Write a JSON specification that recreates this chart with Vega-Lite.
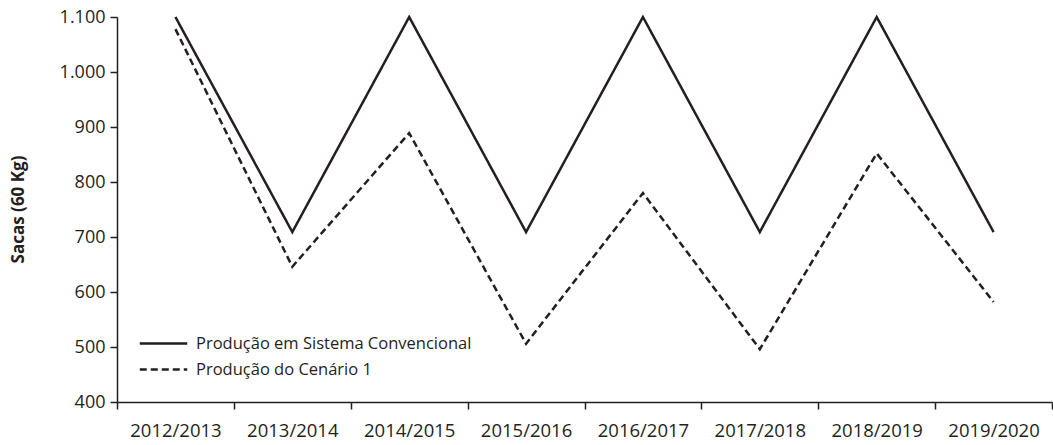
{
  "$schema": "https://vega.github.io/schema/vega-lite/v6.json",
  "autosize": {"type": "none"},
  "padding": {"left": 117, "top": 17, "right": 1, "bottom": 43},
  "width": 935,
  "height": 385,
  "background": "white",
  "config": {
    "font": "Open Sans",
    "view": {"stroke": null},
    "axis": {"grid": false, "domain": true, "domainColor": "#231f20", "tickColor": "#231f20", "labelColor": "#231f20", "titleColor": "#231f20", "domainWidth": 1.5, "tickWidth": 1.5, "tickSize": 7, "labelFont": "Open Sans", "labelFontSize": 18}
  },
  "data": {
    "values": [
      {"ano": "2012/2013", "serie": "Produção em Sistema Convencional", "valor": 1100},
      {"ano": "2013/2014", "serie": "Produção em Sistema Convencional", "valor": 709},
      {"ano": "2014/2015", "serie": "Produção em Sistema Convencional", "valor": 1100},
      {"ano": "2015/2016", "serie": "Produção em Sistema Convencional", "valor": 709},
      {"ano": "2016/2017", "serie": "Produção em Sistema Convencional", "valor": 1100},
      {"ano": "2017/2018", "serie": "Produção em Sistema Convencional", "valor": 709},
      {"ano": "2018/2019", "serie": "Produção em Sistema Convencional", "valor": 1100},
      {"ano": "2019/2020", "serie": "Produção em Sistema Convencional", "valor": 709},
      {"ano": "2012/2013", "serie": "Produção do Cenário 1", "valor": 1078},
      {"ano": "2013/2014", "serie": "Produção do Cenário 1", "valor": 646},
      {"ano": "2014/2015", "serie": "Produção do Cenário 1", "valor": 889},
      {"ano": "2015/2016", "serie": "Produção do Cenário 1", "valor": 506},
      {"ano": "2016/2017", "serie": "Produção do Cenário 1", "valor": 780},
      {"ano": "2017/2018", "serie": "Produção do Cenário 1", "valor": 496},
      {"ano": "2018/2019", "serie": "Produção do Cenário 1", "valor": 852},
      {"ano": "2019/2020", "serie": "Produção do Cenário 1", "valor": 582}
    ]
  },
  "mark": {"type": "line", "strokeWidth": 2.5, "color": "#231f20", "strokeJoin": "miter"},
  "encoding": {
    "x": {
      "field": "ano", "type": "ordinal", "bandPosition": 0.5,
      "scale": {"type": "band", "paddingInner": 0, "paddingOuter": 0},
      "axis": {"title": null, "labelAngle": 0, "tickBand": "extent", "labelPadding": 12, "labelFontSize": 18.5}
    },
    "y": {
      "field": "valor", "type": "quantitative",
      "scale": {"domain": [400, 1100], "nice": false, "zero": false},
      "axis": {
        "values": [400, 500, 600, 700, 800, 900, 1000, 1100],
        "labelExpr": "replace(format(datum.value, ','), ',', '.')",
        "labelPadding": 5,
        "title": "Sacas (60 Kg)",
        "titleFontSize": 17,
        "titleFontWeight": "bold",
        "titleX": -99,
        "titleY": 192,
        "titleAngle": -90,
        "titleBaseline": "middle",
        "titleAlign": "center"
      }
    },
    "strokeDash": {
      "field": "serie", "type": "nominal",
      "scale": {"domain": ["Produção em Sistema Convencional", "Produção do Cenário 1"], "range": [[1, 0], [7, 4]]},
      "legend": {
        "title": null,
        "orient": "none",
        "legendX": 29,
        "legendY": 309,
        "symbolType": "M-1.5,0H1.5",
        "symbolSize": 1000,
        "symbolStrokeWidth": 2.5,
        "symbolStrokeColor": "#231f20",
        "symbolFillColor": "transparent",
        "labelFontSize": 16.5,
        "labelColor": "#231f20",
        "labelFont": "Open Sans",
        "labelOffset": 15,
        "rowPadding": 0,
        "labelLimit": 400
      }
    }
  }
}
